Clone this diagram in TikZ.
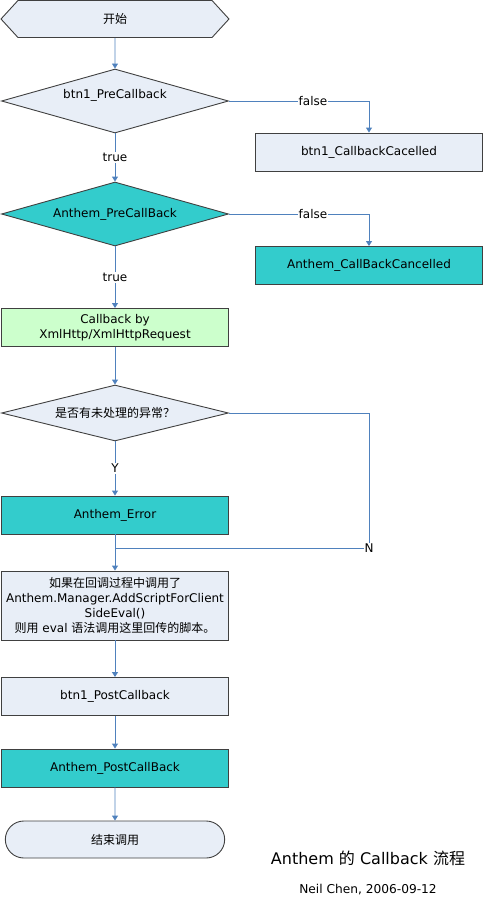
\documentclass[tikz,border=0pt]{standalone}
\usepackage{fontspec}
\setmainfont{DejaVu Sans}
\newfontfamily\cjk{Noto Sans CJK SC}
\usetikzlibrary{shapes.geometric,shapes.misc,shapes.symbols,arrows.meta}
\definecolor{paleblue}{HTML}{E8EEF7}
\definecolor{cyanfill}{HTML}{33CCCC}
\definecolor{palegreen}{HTML}{CCFFCC}
\definecolor{linkblue}{HTML}{4F81BD}
\definecolor{edgegray}{HTML}{404040}

\begin{document}
\begin{tikzpicture}[x=1pt,y=-1pt,
  every node/.style={font=\fontsize{12}{15}\selectfont},
  box/.style={draw=edgegray, line width=.9pt, rectangle, minimum width=227pt, minimum height=38pt, inner sep=1pt},
  test/.style={draw=edgegray, line width=.9pt, diamond, aspect=3.5, minimum width=227pt, minimum height=64pt, inner sep=0pt},
  link/.style={draw=linkblue, line width=.9pt},
  arr/.style={link, -{Triangle[length=5pt,width=6pt]}},
  lbl/.style={fill=white, inner sep=1pt}
]
\useasboundingbox (0,0) rectangle (483,899);

\node[signal, signal to=east and west, signal pointer angle=95, draw=edgegray, line width=.9pt, fill=paleblue, minimum width=228pt, minimum height=37pt] (start) at (115,19) {\cjk 开始};

\node[test, fill=paleblue, text depth=15pt] (pre1) at (115,101) {btn1\_PreCallback};
\node[box, fill=paleblue] (cancel1) at (369,152) {btn1\_CallbackCacelled};

\node[test, fill=cyanfill] (pre2) at (115,214) {Anthem\_PreCallBack};
\node[box, fill=cyanfill] (cancel2) at (369,265.5) {Anthem\_CallBackCancelled};

\node[box, fill=palegreen, align=center] (xhr) at (115,327.5) {Callback by\\XmlHttp/XmlHttpRequest};

\node[test, fill=paleblue, minimum height=56pt] (err) at (115,413) {\cjk 是否有未处理的异常？};
\node[box, fill=cyanfill] (anerr) at (115,515) {Anthem\_Error};

\node[box, fill=paleblue, minimum height=69pt, align=center] (eval) at (115,605.5)
  {{\cjk 如果在回调过程中调用了}\\Anthem.Manager.AddScriptForClient\\SideEval()\\{\cjk 则用} eval {\cjk 语法调用这里回传的脚本。}};

\node[box, fill=paleblue] (post1) at (115,696.5) {btn1\_PostCallback};
\node[box, fill=cyanfill] (post2) at (115,768) {Anthem\_PostCallBack};

\node[rounded rectangle, draw=edgegray, line width=.9pt, fill=paleblue, minimum width=226pt, minimum height=37pt] (stop) at (115,839.5) {\cjk 结束调用};

\node[font=\fontsize{16}{18}\selectfont] (title) at (368,858) {Anthem {\cjk 的} Callback {\cjk 流程}};
\node[font=\fontsize{12.2}{14}\selectfont] (sign) at (368,890) {Neil Chen, 2006-09-12};

\coordinate (ncorner) at (369,548);
\coordinate (join) at (115,548);

\draw[arr] (start) -- (pre1);
\draw[arr] (pre1.east) -| node[lbl, pos=.3] {false} (cancel1.north);
\draw[arr] (pre1.south) -- node[lbl] {true} (pre2.north);
\draw[arr] (pre2.east) -| node[lbl, pos=.3] {false} (cancel2.north);
\draw[arr] (pre2.south) -- node[lbl] {true} (xhr.north);
\draw[arr] (xhr) -- (err);
\draw[arr] (err.south) -- node[lbl] {Y} (anerr.north);
\draw[link] (err.east) -| (ncorner) node[lbl] {N} -- (join);
\draw[arr] (anerr) -- (eval);
\draw[arr] (eval) -- (post1);
\draw[arr] (post1) -- (post2);
\draw[arr] (post2) -- (stop);
\end{tikzpicture}
\end{document}
